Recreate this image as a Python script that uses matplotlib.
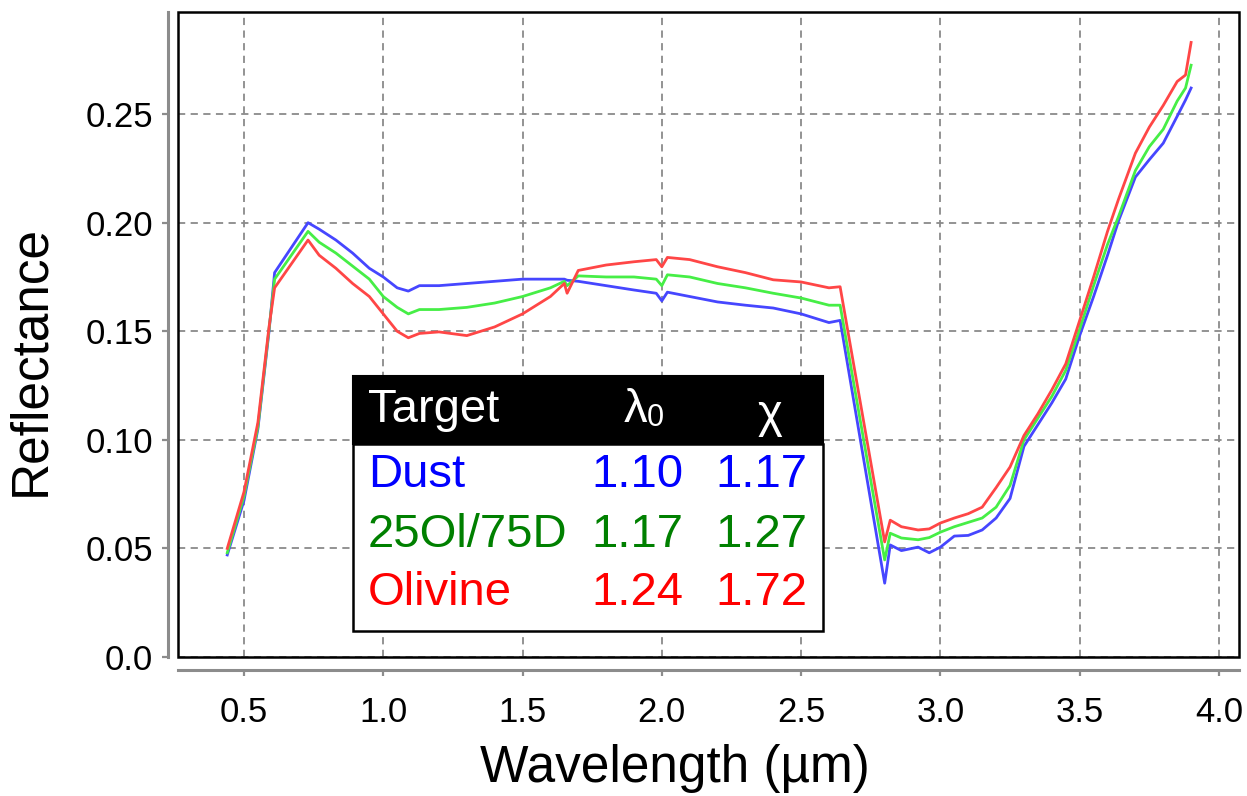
import matplotlib
matplotlib.use("Agg")
import matplotlib.pyplot as plt
from matplotlib.patches import Rectangle
import numpy as np

plt.rcParams['font.family'] = ['Liberation Sans', 'DejaVu Sans']

# spectra (wavelength in um, reflectance)
wavelength = [0.44, 0.50, 0.55, 0.59, 0.61, 0.73, 0.77, 0.83, 0.89, 0.95,
              1.00, 1.05, 1.09, 1.13, 1.20, 1.30, 1.40, 1.50, 1.60, 1.65,
              1.66, 1.70, 1.80, 1.90, 1.98, 2.00, 2.02, 2.10, 2.20, 2.30,
              2.40, 2.50, 2.60, 2.64, 2.80, 2.82, 2.86, 2.92, 2.96, 3.00,
              3.05, 3.10, 3.15, 3.20, 3.25, 3.30, 3.35, 3.40, 3.45, 3.50,
              3.55, 3.60, 3.64, 3.70, 3.75, 3.80, 3.85, 3.88, 3.90]
dust = [0.047, 0.072, 0.105, 0.150, 0.177, 0.200, 0.197, 0.192, 0.186, 0.179,
        0.175, 0.170, 0.1685, 0.171, 0.171, 0.172, 0.173, 0.174, 0.174, 0.174,
        0.1735, 0.173, 0.171, 0.169, 0.1675, 0.164, 0.168, 0.166, 0.1635, 0.162,
        0.1607, 0.158, 0.154, 0.155, 0.034, 0.0516, 0.049, 0.0506, 0.048, 0.0506,
        0.0557, 0.056, 0.0585, 0.064, 0.073, 0.097, 0.107, 0.117, 0.128, 0.148,
        0.166, 0.185, 0.201, 0.221, 0.229, 0.2366, 0.249, 0.2565, 0.262]
mix = [0.048, 0.074, 0.106, 0.151, 0.174, 0.196, 0.191, 0.186, 0.180, 0.174,
       0.166, 0.161, 0.158, 0.160, 0.160, 0.161, 0.163, 0.166, 0.170, 0.173,
       0.171, 0.1755, 0.175, 0.175, 0.174, 0.171, 0.176, 0.175, 0.172, 0.170,
       0.1675, 0.1653, 0.162, 0.162, 0.0447, 0.057, 0.0548, 0.054, 0.055, 0.0575,
       0.060, 0.062, 0.064, 0.069, 0.079, 0.100, 0.110, 0.120, 0.132, 0.151,
       0.171, 0.190, 0.203, 0.224, 0.235, 0.243, 0.256, 0.262, 0.2725]
olivine = [0.050, 0.076, 0.108, 0.152, 0.170, 0.192, 0.185, 0.179, 0.172, 0.166,
           0.158, 0.150, 0.147, 0.149, 0.1497, 0.148, 0.152, 0.158, 0.166, 0.172,
           0.1675, 0.178, 0.1805, 0.182, 0.183, 0.1797, 0.184, 0.183, 0.1797, 0.177,
           0.1737, 0.1727, 0.170, 0.1705, 0.053, 0.063, 0.060, 0.0585, 0.059, 0.0617,
           0.064, 0.066, 0.069, 0.078, 0.0875, 0.102, 0.112, 0.123, 0.135, 0.155,
           0.175, 0.196, 0.211, 0.232, 0.244, 0.254, 0.265, 0.268, 0.283]

targets = ["Dust", "25Ol/75D", "Olivine"]
lambda0 = ["1.10", "1.17", "1.24"]
chi = ["1.17", "1.27", "1.72"]
line_colors = ["#4646ff", "#46ee46", "#ff4646"]
text_colors = ["#0000ff", "#008000", "#ff0000"]

fig = plt.figure(figsize=(12.47, 7.96), dpi=100)
ax = fig.add_axes([0.1427, 0.1746, 0.8509, 0.8103])

for spec, c in zip([dust, mix, olivine], line_colors):
    ax.plot(wavelength, spec, color=c, lw=2.0, zorder=3)

ax.set_xlim(0.263, 4.072)
ax.set_ylim(0.0, 0.297)
xt = np.arange(0.5, 4.01, 0.5)
ax.set_xticks(xt)
ax.set_xticklabels([f"{v:.1f}" for v in xt])
yt = [0.0, 0.05, 0.10, 0.15, 0.20, 0.25]
ax.set_yticks(yt)
ax.set_yticklabels(["0.0", "0.05", "0.10", "0.15", "0.20", "0.25"])
ax.grid(True, color="#8a8a8a", ls=(0, (4, 3)), lw=1.3)

# offset gray axis lines, black frame around the data area
for s in ["top", "right"]:
    ax.spines[s].set_visible(False)
ax.spines["left"].set_position(("outward", 7.2))
ax.spines["bottom"].set_position(("outward", 9.4))
for s in ["left", "bottom"]:
    ax.spines[s].set_color("#8c8c8c")
    ax.spines[s].set_linewidth(2.2)
ax.add_patch(Rectangle((0, 0), 1, 1, transform=ax.transAxes, fill=False,
                       ec="black", lw=1.8, clip_on=False, zorder=5))
ax.tick_params(direction="out", length=4.5, width=1.6, color="#8c8c8c",
               labelsize=25)
ax.tick_params(axis="x", pad=14)
ax.tick_params(axis="y", pad=6)

ax.set_xlabel("Wavelength (µm)", fontsize=37, labelpad=14)
ax.xaxis.set_label_coords(0.468, -0.135)
ax.set_ylabel("Reflectance", fontsize=37)
ax.yaxis.set_label_coords(-0.116, 0.46)

# table of fit parameters
bx0, bx1 = 0.165, 0.608
ax.add_patch(Rectangle((bx0, 0.330), bx1 - bx0, 0.4357 - 0.330, transform=ax.transAxes,
                       fc="black", ec="black", lw=1.5, zorder=6))
ax.add_patch(Rectangle((bx0, 0.0403), bx1 - bx0, 0.330 - 0.0403, transform=ax.transAxes,
                       fc="white", ec="black", lw=1.8, zorder=6))
fs = 34
ax.text(0.179, 0.383, "Target", color="white", fontsize=fs, ha="left", va="center",
        transform=ax.transAxes, zorder=7)
ax.text(0.442, 0.383, "λ", color="white", fontsize=fs, ha="right", va="center",
        transform=ax.transAxes, zorder=7)
ax.text(0.442, 0.371, "0", color="white", fontsize=22, ha="left", va="center",
        transform=ax.transAxes, zorder=7)
ax.text(0.558, 0.375, "χ", color="white", fontsize=fs, ha="center", va="center",
        transform=ax.transAxes, zorder=7)
row_y = [0.282, 0.189, 0.099]
for name, l0, x, c, yy in zip(targets, lambda0, chi, text_colors, row_y):
    ax.text(0.179, yy, name, color=c, fontsize=fs, ha="left", va="center",
            transform=ax.transAxes, zorder=7)
    ax.text(0.476, yy, l0, color=c, fontsize=fs, ha="right", va="center",
            transform=ax.transAxes, zorder=7)
    ax.text(0.593, yy, x, color=c, fontsize=fs, ha="right", va="center",
            transform=ax.transAxes, zorder=7)

fig.savefig("out.png", dpi=100)
